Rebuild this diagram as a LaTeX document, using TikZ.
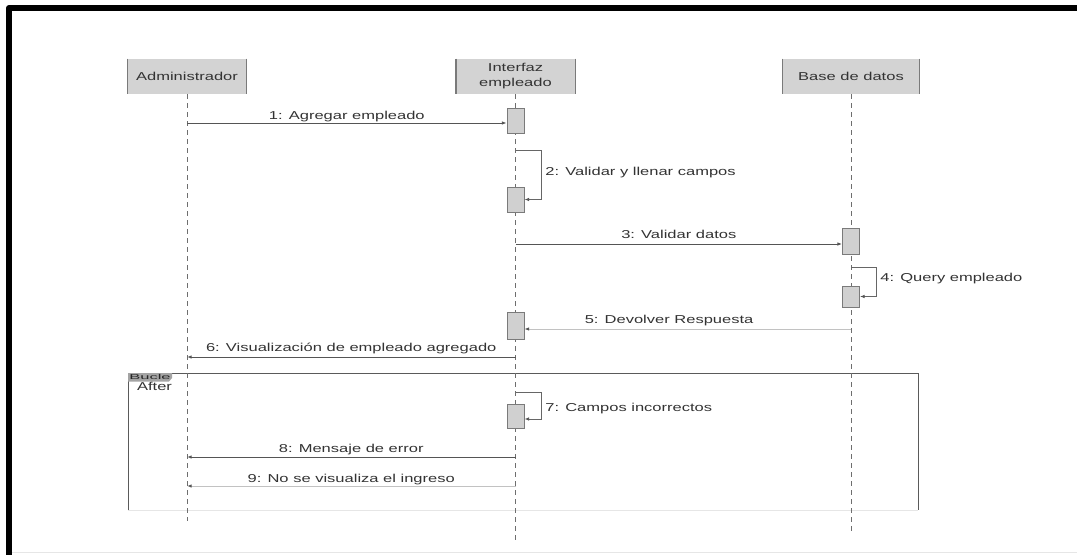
\documentclass[tikz,border=0pt]{standalone}
\usepackage{fontspec}
\setmainfont{Liberation Sans}
\newfontfamily\lblfont[FakeStretch=1.44]{Liberation Sans}
\usetikzlibrary{arrows.meta}
\usepackage{graphicx}
\definecolor{headfill}{HTML}{D3D3D3}
\definecolor{actfill}{HTML}{D0D0D0}
\definecolor{edgecol}{HTML}{7A7A7A}
\definecolor{txt}{HTML}{333333}
\definecolor{msgcol}{HTML}{555555}
\definecolor{retcol}{HTML}{C2C2C2}
\definecolor{selfcol}{HTML}{666666}
\definecolor{lifecol}{HTML}{6E6E6E}
\definecolor{framecol}{HTML}{5A5A5A}
\definecolor{framebot}{HTML}{E6E6E6}
\definecolor{tabfill}{HTML}{A4A4A4}

\begin{document}
\begin{tikzpicture}[x=0.75pt,y=-0.75pt,
  every node/.style={font=\lblfont\fontsize{8.6pt}{11.2pt}\selectfont, text=txt, inner sep=0pt},
  head/.style={rectangle, fill=headfill, minimum height=26.25pt, align=center},
  act/.style={rectangle, fill=actfill, draw=edgecol, line width=0.6pt, minimum width=12.75pt},
  lifeline/.style={draw=lifecol, line width=0.7pt, dash pattern=on 3.75pt off 3pt},
  msg/.style={draw=msgcol, line width=0.75pt, -{Latex[length=3.5pt,width=2.6pt]}},
  ret/.style={draw=retcol, line width=0.75pt, -{Latex[length=3.5pt,width=2.6pt,color=msgcol]}},
  selfmsg/.style={draw=selfcol, line width=0.6pt, -{Latex[length=3.5pt,width=2.6pt,color=msgcol]}},
  lbl/.style={anchor=base},
  selflbl/.style={pos=0.25, anchor=west, xshift=3pt}
]
\useasboundingbox (0,0) rectangle (1077,554);
\fill[white] (0,0) rectangle (1077,554);

% page frame
\draw[black, line width=4.5pt, line join=round] (9,556) -- (9,8) -- (1079,8);
\draw[framebot, line width=1.2pt] (12,552.5) -- (1077,552.5);

% loop fragment
\draw[framecol, line width=0.65pt] (128,510) -- (128,373) -- (918,373) -- (918,510);
\draw[framebot, line width=0.7pt] (128,510) -- (918,510);
\fill[tabfill] (128,373) -- (172,373) -- (172,378) -- (169,381.5) -- (128,381.5) -- cycle;
\node[text=black!85] (tab) at (150,377.3) {\scalebox{1}[0.62]{Bucle}};
\node (guard) at (154.5,386) {After};

% participants
\node[head, minimum width=88.5pt] (adm) at (187,76.5) {Administrador};
\node[head, minimum width=89pt] (ife) at (515.5,76.5) {Interfaz\\empleado};
\node[head, minimum width=102pt] (bd) at (851,76.5) {Base de datos};
\foreach \n in {adm,ife,bd}
  \draw[edgecol, line width=0.9pt] (\n.north west) -- (\n.south west) (\n.north east) -- (\n.south east);

% lifelines
\coordinate (admEnd) at (187,521);
\coordinate (ifeEnd) at (515.5,540);
\coordinate (bdEnd) at (851,532);
\draw[lifeline] (adm.south) -- (admEnd);
\draw[lifeline] (ife.south) -- (ifeEnd);
\draw[lifeline] (bd.south) -- (bdEnd);

% activations
\node[act, minimum height=18.75pt] (a1) at (515.5,120.5) {};
\node[act, minimum height=18.75pt] (a2) at (515.5,199.5) {};
\node[act, minimum height=19.5pt] (a3) at (851,241) {};
\node[act, minimum height=15.75pt] (a4) at (851,296.5) {};
\node[act, minimum height=20.25pt] (a5) at (515.5,325.5) {};
\node[act, minimum height=18pt] (a7) at (515.5,416) {};

% messages
\coordinate (m1) at (187,123);
\draw[msg] (m1) -- node[lbl, yshift=3pt] {1: Agregar empleado} (m1 -| a1.west);

\coordinate (s2) at (515.5,150);
\draw[selfmsg] (s2) -- ++(25.5,0) |- node[selflbl, yshift=1.5pt] {2: Validar y llenar campos} (a2.east);

\coordinate (m3) at (515.5,244);
\draw[msg] (m3) -- node[lbl, yshift=4pt] {3: Validar datos} (m3 -| a3.west);

\coordinate (s4) at (851,267);
\draw[selfmsg] (s4) -- ++(25,0) |- node[selflbl, yshift=2.25pt] {4: Query empleado} (a4.east);

\coordinate (m5) at (851,329);
\draw[ret] (m5) -- node[lbl, pos=0.557, yshift=4.5pt] {5: Devolver Respuesta} (m5 -| a5.east);

\coordinate (m6) at (515.5,357);
\draw[msg] (m6) -- node[lbl, yshift=4pt] {6: Visualización de empleado agregado} (m6 -| adm);

\coordinate (s7) at (515.5,392);
\draw[selfmsg] (s7) -- ++(25.5,0) |- node[selflbl, yshift=-2.6pt] {7: Campos incorrectos} ([yshift=-2.25pt]a7.east);

\coordinate (m8) at (515.5,457);
\draw[msg] (m8) -- node[lbl, yshift=3.5pt] {8: Mensaje de error} (m8 -| adm);

\coordinate (m9) at (515.5,486);
\draw[ret] (m9) -- node[lbl, yshift=3pt] {9: No se visualiza el ingreso} (m9 -| adm);
\end{tikzpicture}
\end{document}
